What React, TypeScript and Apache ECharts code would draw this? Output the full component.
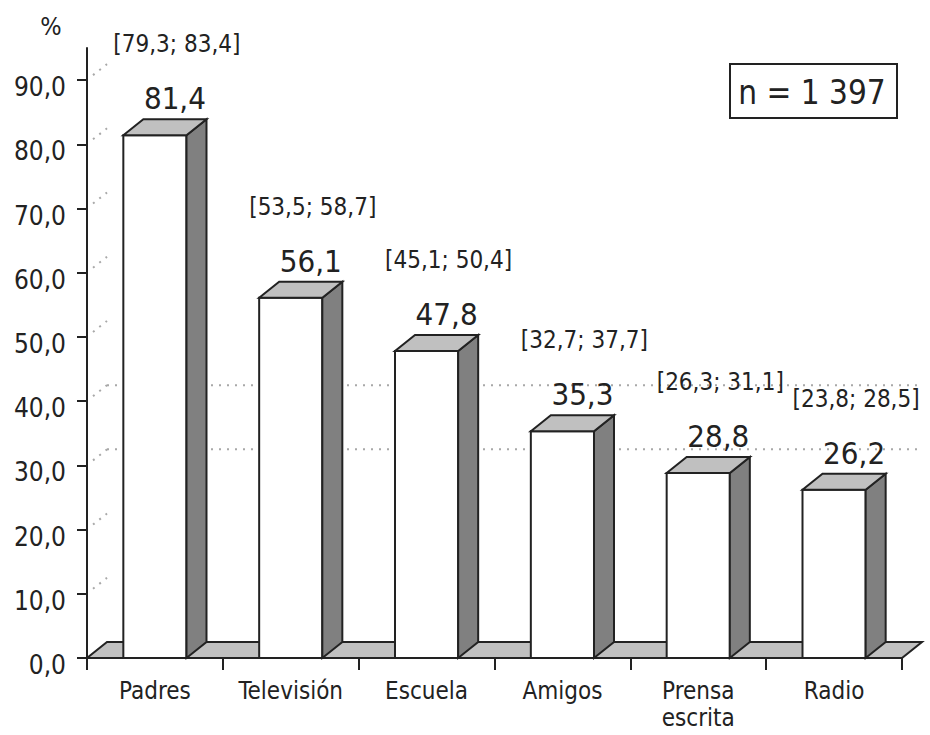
import React, { useEffect, useRef } from "react";
import * as echarts from "echarts";

// Source of information about the topic, share of respondents (%)
const categories = ["Padres", "Televisión", "Escuela", "Amigos", "Prensa\nescrita", "Radio"];
const values = [81.4, 56.1, 47.8, 35.3, 28.8, 26.2];
const ciLow = [79.3, 53.5, 45.1, 32.7, 26.3, 23.8];
const ciHigh = [83.4, 58.7, 50.4, 37.7, 31.1, 28.5];
const yTicks = [0, 10, 20, 30, 40, 50, 60, 70, 80, 90];
const backWallLevels = [30, 40];
const sampleLabel = "n = 1 397";

const FONT = '"DejaVu Sans Condensed", "DejaVu Sans"';
const INK = "#222222";
const DEPTH_X = 20;
const DEPTH_Y = -16;

const fmt = (v: number) => v.toFixed(1).replace(".", ",");

export default function App() {
  const ref = useRef<HTMLDivElement>(null);

  useEffect(() => {
    if (!ref.current) return;
    const chart = echarts.init(ref.current, null, { renderer: "svg" });

    const barData = values.map((v, i) => [i, v]);

    const option = {
      animation: false,
      backgroundColor: "#ffffff",
      grid: { left: 87, width: 815, top: 48, height: 610, containLabel: false },
      xAxis: {
        type: "category",
        data: categories,
        boundaryGap: true,
        axisLine: { show: true, lineStyle: { color: INK, width: 2 } },
        axisTick: { show: true, length: 12, lineStyle: { color: INK, width: 2 } },
        axisLabel: {
          interval: 0,
          margin: 19,
          color: INK,
          fontFamily: FONT,
          fontSize: 24,
          lineHeight: 27,
        },
        splitLine: { show: false },
      },
      yAxis: {
        type: "value",
        min: 0,
        max: 95,
        interval: 5,
        axisLine: { show: true, lineStyle: { color: INK, width: 2 } },
        axisTick: { show: true, length: 10, customValues: yTicks, lineStyle: { color: INK, width: 2 } },
        axisLabel: {
          customValues: yTicks,
          margin: 21,
          color: INK,
          fontFamily: FONT,
          fontSize: 26,
          verticalAlign: "top",
          lineHeight: 14,
          formatter: (v: number) => fmt(v),
        },
        splitLine: { show: false },
      },
      graphic: [
        {
          type: "text",
          x: 51,
          y: 26,
          style: {
            text: "%",
            fill: INK,
            font: `25px ${FONT}`,
            align: "center",
            verticalAlign: "middle",
          },
        },
        {
          type: "rect",
          shape: { x: 730, y: 64, width: 167, height: 54 },
          style: { fill: "#ffffff", stroke: INK, lineWidth: 2 },
        },
        {
          type: "text",
          x: 812,
          y: 92,
          style: {
            text: sampleLabel,
            fill: INK,
            font: `33px ${FONT}`,
            align: "center",
            verticalAlign: "middle",
          },
        },
      ],
      series: [
        {
          // floor slab and dotted back-wall grid
          type: "custom",
          z: 1,
          clip: false,
          silent: true,
          data: [[0, 0]],
          encode: { x: 0, y: 1 },
          renderItem: (params: any, api: any) => {
            const cs = params.coordSys;
            const left = cs.x;
            const right = cs.x + cs.width;
            const base = api.coord([0, 0])[1];
            const dotted = { stroke: "#a8a8a8", lineWidth: 2, lineDash: [2, 6], fill: null };
            const children: any[] = [];
            yTicks
              .filter((t) => t > 0)
              .forEach((t) => {
                const y = api.coord([0, t])[1];
                children.push({
                  type: "line",
                  shape: { x1: left + 6, y1: y - 5, x2: left + DEPTH_X, y2: y + DEPTH_Y },
                  style: dotted,
                });
              });
            backWallLevels.forEach((t) => {
              const y = api.coord([0, t])[1] + DEPTH_Y;
              children.push({
                type: "line",
                shape: { x1: left + DEPTH_X, y1: y, x2: right + DEPTH_X, y2: y },
                style: dotted,
              });
            });
            children.push({
              type: "polygon",
              shape: {
                points: [
                  [left, base],
                  [right, base],
                  [right + DEPTH_X, base + DEPTH_Y],
                  [left + DEPTH_X, base + DEPTH_Y],
                ],
              },
              style: { fill: "#c0c0c0", stroke: INK, lineWidth: 2, lineJoin: "miter" },
            });
            return { type: "group", children };
          },
        },
        {
          // 3D bars with value and confidence-interval labels
          type: "custom",
          z: 2,
          clip: false,
          data: barData,
          encode: { x: 0, y: 1 },
          renderItem: (params: any, api: any) => {
            const idx = api.value(0);
            const val = api.value(1);
            const top = api.coord([idx, val]);
            const base = api.coord([idx, 0]);
            const band = api.size([1, 0])[0];
            const w = band * 0.465;
            const xl = top[0] - w / 2;
            const xr = xl + w;
            const yt = top[1];
            const yb = base[1];
            const edge = { stroke: INK, lineWidth: 2, lineJoin: "miter" };
            const i = params.dataIndex;
            return {
              type: "group",
              children: [
                {
                  type: "rect",
                  shape: { x: xl, y: yt, width: w, height: yb - yt },
                  style: { fill: "#ffffff", ...edge },
                },
                {
                  type: "polygon",
                  shape: {
                    points: [
                      [xr, yt],
                      [xr + DEPTH_X, yt + DEPTH_Y],
                      [xr + DEPTH_X, yb + DEPTH_Y],
                      [xr, yb],
                    ],
                  },
                  style: { fill: "#808080", ...edge },
                },
                {
                  type: "polygon",
                  shape: {
                    points: [
                      [xl, yt],
                      [xl + DEPTH_X, yt + DEPTH_Y],
                      [xr + DEPTH_X, yt + DEPTH_Y],
                      [xr, yt],
                    ],
                  },
                  style: { fill: "#c0c0c0", ...edge },
                },
                {
                  type: "text",
                  x: top[0] + 20,
                  y: yt - 37,
                  style: {
                    text: fmt(val),
                    fill: INK,
                    font: `31px ${FONT}`,
                    align: "center",
                    verticalAlign: "middle",
                  },
                },
                {
                  type: "text",
                  x: top[0] + 22,
                  y: yt - 91,
                  style: {
                    text: `[${fmt(ciLow[i])}; ${fmt(ciHigh[i])}]`,
                    fill: INK,
                    font: `24px ${FONT}`,
                    align: "center",
                    verticalAlign: "middle",
                  },
                },
              ],
            };
          },
        },
      ],
    };

    chart.setOption(option as any);
    return () => chart.dispose();
  }, []);

  return (
    <div
      ref={ref}
      style={{ position: "absolute", left: 0, top: 0, width: 930, height: 735, background: "#fff" }}
    />
  );
}
